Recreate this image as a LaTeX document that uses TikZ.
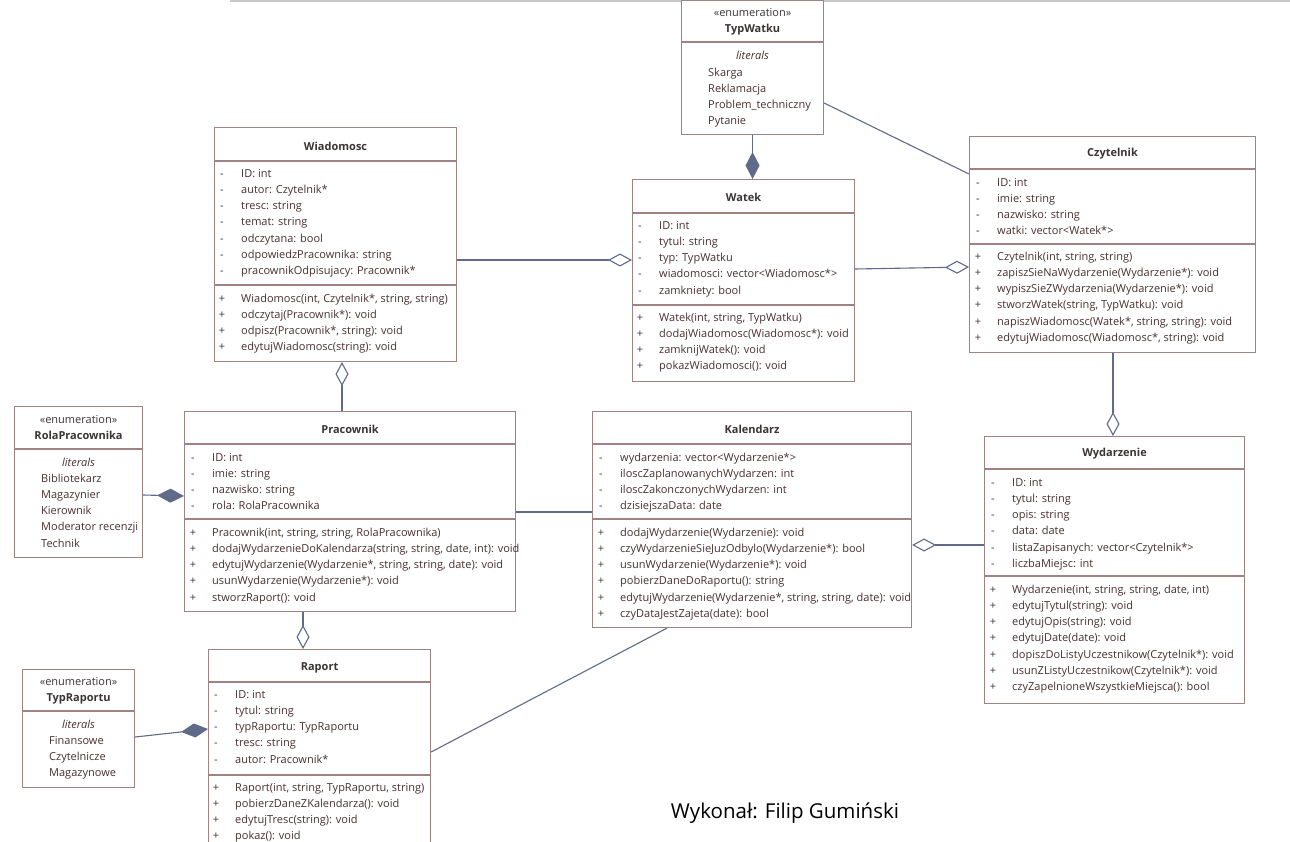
\documentclass[tikz,border=0pt]{standalone}
\usepackage{fontspec}
\setmainfont{Open Sans}
\usetikzlibrary{arrows.meta}
\definecolor{boxcol}{RGB}{160,130,130}
\definecolor{txtcol}{RGB}{72,48,48}
\definecolor{namecol}{RGB}{60,52,52}
\definecolor{linkcol}{RGB}{96,106,138}
\tikzset{
umlbox/.style={draw=boxcol, line width=1.1pt, fill=white, inner sep=0pt, anchor=north west}, % outline of a class
divider/.style={draw=boxcol, line width=1.1pt}, % line between compartments
classname/.style={font=\fontsize{11}{16}\selectfont\bfseries, text=namecol},
enumhead/.style={font=\fontsize{11}{16}\selectfont, text=namecol, align=center},
member/.style={font=\fontsize{11}{13}\selectfont, text=txtcol, anchor=west, inner sep=0pt, text height=9.5pt, text depth=1pt},
sign/.style={member, anchor=center},
litlabel/.style={member, anchor=center, font=\fontsize{11}{13}\selectfont\itshape},
link/.style={draw=linkcol, line width=1.1pt}, % plain association
agg/.style={link, -{Diamond[open, length=24pt, width=13pt]}}, % aggregation
comp/.style={link, -{Diamond[length=27pt, width=14pt]}}, % composition
}
% one compartment: prefix, text x, first row y, sign, rows
\newcommand{\umlrows}[5]{%
  \foreach \txt [count=\i from 0] in {#5}{
    \node[sign] (#1s\i) at (#2-19,{#3+16.2*\i}) {#4};
    \node[member] (#1r\i) at (#2,{#3+16.2*\i}) {\txt};
  }}
% literals of an enumeration: prefix, text x, first row y, rows
\newcommand{\umllits}[4]{%
  \foreach \txt [count=\i from 0] in {#4}{
    \node[member] (#1l\i) at (#2,{#3+16.2*\i}) {\txt};
  }}

\begin{document}
\begin{tikzpicture}[x=1pt, y=-1pt]
\fill[white] (0,0) rectangle (1290,842);
\useasboundingbox (0,0) rectangle (1290,842);
\draw[black!22, line width=2pt] (230,1) -- (1290,1);

% enumerations
\node[umlbox, minimum width=142, minimum height=134] (typw) at (681,0) {};
\draw[divider] (typw.west |- 0,42) -- (typw.east |- 0,42);
\node[enumhead] (typwN) at (typw.north |- 0,22) {«enumeration»\\\textbf{TypWatku}};
\node[litlabel] (typwL) at (typw.north |- 0,55) {literals};
\umllits{typw}{708}{72}{Skarga, Reklamacja, Problem\_techniczny, Pytanie}

\node[umlbox, minimum width=128, minimum height=151] (rola) at (14,406) {};
\draw[divider] (rola.west |- 0,449) -- (rola.east |- 0,449);
\node[enumhead] (rolaN) at (rola.north |- 0,428) {«enumeration»\\\textbf{RolaPracownika}};
\node[litlabel] (rolaL) at (rola.north |- 0,462) {literals};
\umllits{rola}{41}{478}{Bibliotekarz, Magazynier, Kierownik, Moderator recenzji, Technik}

\node[umlbox, minimum width=112, minimum height=118] (typr) at (22,669) {};
\draw[divider] (typr.west |- 0,711) -- (typr.east |- 0,711);
\node[enumhead] (typrN) at (typr.north |- 0,691) {«enumeration»\\\textbf{TypRaportu}};
\node[litlabel] (typrL) at (typr.north |- 0,724) {literals};
\umllits{typr}{49}{740}{Finansowe, Czytelnicze, Magazynowe}

% classes
\node[umlbox, minimum width=242, minimum height=234] (wiad) at (214,127) {};
\draw[divider] (wiad.west |- 0,161) -- (wiad.east |- 0,161);
\draw[divider] (wiad.west |- 0,285) -- (wiad.east |- 0,285);
\node[classname] (wiadN) at (wiad.north |- 0,146) {Wiadomosc};
\umlrows{wiadA}{241}{173}{-}{ID: int, autor: Czytelnik*, tresc: string, temat: string, odczytana: bool,
  odpowiedzPracownika: string, pracownikOdpisujacy: Pracownik*}
\umlrows{wiadO}{241}{298}{+}{{Wiadomosc(int, Czytelnik*, string, string)}, odczytaj(Pracownik*): void,
  {odpisz(Pracownik*, string): void}, edytujWiadomosc(string): void}

\node[umlbox, minimum width=222, minimum height=202] (watek) at (632,179) {};
\draw[divider] (watek.west |- 0,213) -- (watek.east |- 0,213);
\draw[divider] (watek.west |- 0,305) -- (watek.east |- 0,305);
\node[classname] (watekN) at (watek.north |- 0,197) {Watek};
\umlrows{watekA}{659}{225}{-}{ID: int, tytul: string, typ: TypWatku, wiadomosci: vector<Wiadomosc*>, zamkniety: bool}
\umlrows{watekO}{659}{317}{+}{{Watek(int, string, TypWatku)}, dodajWiadomosc(Wiadomosc*): void,
  zamknijWatek(): void, pokazWiadomosci(): void}

\node[umlbox, minimum width=286, minimum height=216] (czyt) at (969,136) {};
\draw[divider] (czyt.west |- 0,169) -- (czyt.east |- 0,169);
\draw[divider] (czyt.west |- 0,244) -- (czyt.east |- 0,244);
\node[classname] (czytN) at (czyt.north |- 0,154) {Czytelnik};
\umlrows{czytA}{997}{182}{-}{ID: int, imie: string, nazwisko: string, watki: vector<Watek*>}
\umlrows{czytO}{997}{256}{+}{{Czytelnik(int, string, string)}, zapiszSieNaWydarzenie(Wydarzenie*): void,
  wypiszSieZWydarzenia(Wydarzenie*): void, {stworzWatek(string, TypWatku): void},
  {napiszWiadomosc(Watek*, string, string): void}, {edytujWiadomosc(Wiadomosc*, string): void}}

\node[umlbox, minimum width=331, minimum height=200] (prac) at (184,411) {};
\draw[divider] (prac.west |- 0,444) -- (prac.east |- 0,444);
\draw[divider] (prac.west |- 0,519) -- (prac.east |- 0,519);
\node[classname] (pracN) at (prac.north |- 0,429) {Pracownik};
\umlrows{pracA}{212}{457}{-}{ID: int, imie: string, nazwisko: string, rola: RolaPracownika}
\umlrows{pracO}{212}{532}{+}{{Pracownik(int, string, string, RolaPracownika)},
  {dodajWydarzenieDoKalendarza(string, string, date, int): void},
  {edytujWydarzenie(Wydarzenie*, string, string, date): void}, usunWydarzenie(Wydarzenie*): void,
  stworzRaport(): void}

\node[umlbox, minimum width=319, minimum height=216] (kal) at (592,411) {};
\draw[divider] (kal.west |- 0,444) -- (kal.east |- 0,444);
\draw[divider] (kal.west |- 0,519) -- (kal.east |- 0,519);
\node[classname] (kalN) at (kal.north |- 0,429) {Kalendarz};
\umlrows{kalA}{620}{457}{-}{wydarzenia: vector<Wydarzenie*>, iloscZaplanowanychWydarzen: int,
  iloscZakonczonychWydarzen: int, dzisiejszaData: date}
\umlrows{kalO}{620}{532}{+}{dodajWydarzenie(Wydarzenie): void, czyWydarzenieSieJuzOdbylo(Wydarzenie*): bool,
  usunWydarzenie(Wydarzenie*): void, pobierzDaneDoRaportu(): string,
  {edytujWydarzenie(Wydarzenie*, string, string, date): void}, czyDataJestZajeta(date): bool}

\node[umlbox, minimum width=260, minimum height=267] (wyd) at (984,436) {};
\draw[divider] (wyd.west |- 0,469) -- (wyd.east |- 0,469);
\draw[divider] (wyd.west |- 0,576) -- (wyd.east |- 0,576);
\node[classname] (wydN) at (wyd.north |- 0,454) {Wydarzenie};
\umlrows{wydA}{1012}{482}{-}{ID: int, tytul: string, opis: string, data: date,
  listaZapisanych: vector<Czytelnik*>, liczbaMiejsc: int}
\umlrows{wydO}{1012}{589}{+}{{Wydarzenie(int, string, string, date, int)}, edytujTytul(string): void,
  edytujOpis(string): void, edytujDate(date): void, dopiszDoListyUczestnikow(Czytelnik*): void,
  usunZListyUczestnikow(Czytelnik*): void, czyZapelnioneWszystkieMiejsca(): bool}

\node[umlbox, minimum width=222, minimum height=205] (rap) at (208,649) {};
\draw[divider] (rap.west |- 0,682) -- (rap.east |- 0,682);
\draw[divider] (rap.west |- 0,775) -- (rap.east |- 0,775);
\node[classname] (rapN) at (rap.north |- 0,668) {Raport};
\umlrows{rapA}{235}{694}{-}{ID: int, tytul: string, typRaportu: TypRaportu, tresc: string, autor: Pracownik*}
\umlrows{rapO}{235}{787}{+}{{Raport(int, string, TypRaportu, string)}, pobierzDaneZKalendarza(): void,
  edytujTresc(string): void, pokaz(): void}

% relations
\draw[comp] (typw.south) -- (watek.north -| typw.south);
\draw[link] (typw.east |- 0,103) -- (czyt.west |- 0,174);
\draw[agg] (wiad.east |- 0,260) -- (watek.west |- 0,260);
\draw[agg] (watek.east |- 0,269) -- (czyt.west |- 0,267);
\draw[agg] (prac.north -| 342,0) -- (wiad.south -| 342,0);
\draw[comp] (rola.east |- 0,495) -- (prac.west |- 0,496);
\draw[link] (prac.east |- 0,512) -- (kal.west |- 0,512);
\draw[agg] (prac.south -| 303,0) -- (rap.north -| 303,0);
\draw[link] (kal.south -| 667,0) -- (rap.east |- 0,752);
\draw[agg] (wyd.west |- 0,545) -- (kal.east |- 0,545);
\draw[agg] (czyt.south -| 1113,0) -- (wyd.north -| 1113,0);
\draw[comp] (typr.east |- 0,737) -- (rap.west |- 0,729);

\node[font=\fontsize{20.5}{24}\selectfont] (author) at (785,813) {Wykonał: Filip Gumiński};
\end{tikzpicture}
\end{document}
